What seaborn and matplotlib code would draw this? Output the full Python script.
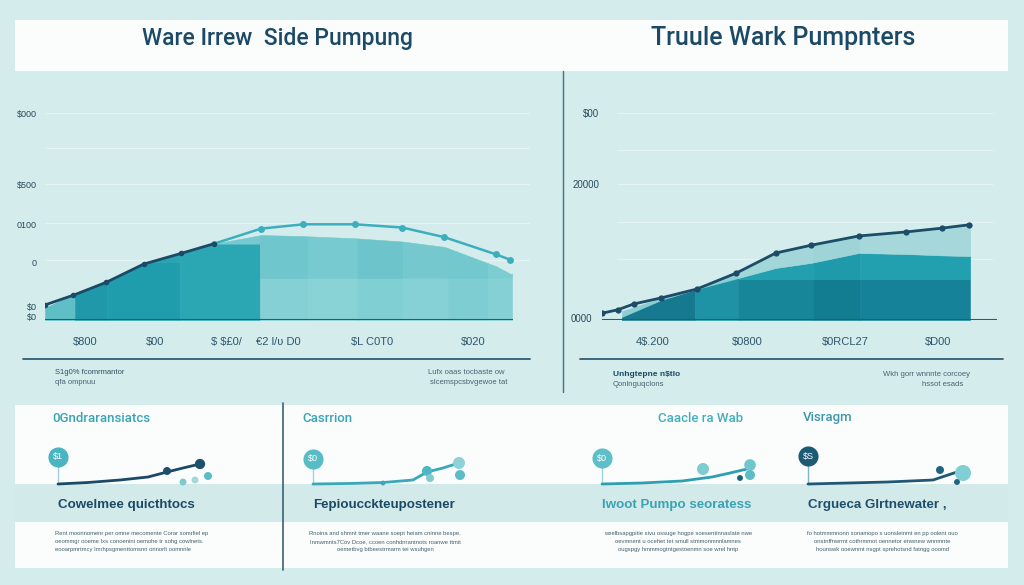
import numpy as np
import pandas as pd
import matplotlib
matplotlib.use("Agg")
import matplotlib.pyplot as plt
from matplotlib.patches import Rectangle
import seaborn as sns

# ---------------- data ----------------
titles = ["Ware Irrew  Side Pumpung", "Truule Wark Pumpnters"]

# left chart
left_x = [0, 6, 13, 21, 29, 36, 46, 55, 66, 76, 85, 96, 99]
left_line = [700, 1150, 1750, 2600, 3100, 3550, 4250, 4450, 4450, 4300, 3850, 3050, 2800]
left_fill = [560, 1150, 1750, 2600, 3100, 3550, 3950, 3900, 3800, 3650, 3400, 2500, 2150]
left_yticks = [140, 605, 2697, 4464, 6324, 9625]
left_ylabels = ["$0", "$0", "0", "0100", "$500", "$000"]
left_grid = [2790, 4510, 6324, 7980, 9625]
left_xticks = [8.5, 23.4, 38.7, 49.6, 69.6, 91.0]
left_xlabels = ["$800", "$00", "$ $£0/", "€2 l/ʋ D0", "$L C0T0", "$020"]

# right chart
right_x = [0, 4, 8, 15, 24, 34, 44, 53, 65, 77, 86, 93]
right_line = [1000, 1500, 2350, 3250, 4550, 6900, 9850, 11000, 12350, 12950, 13500, 14000]
right_area_x = [5, 15, 24, 34, 44, 53, 65, 77, 86, 93]
right_bottom = [450, 2950, 4550, 6000, 6000, 6000, 6000, 6000, 6000, 6000]
right_mid = [450, 2950, 4550, 6100, 7650, 8400, 9850, 9700, 9500, 9400]
right_top = [1300, 3250, 4550, 6900, 9850, 11000, 12350, 12950, 13500, 14000]
right_yticks = [300, 19990, 30430]
right_ylabels = ["0000", "20000", "$00"]
right_grid = [8970, 14400, 19990, 24990, 30430]
right_xticks = [12.9, 36.7, 61.5, 85.0]
right_xlabels = ["4$.200", "$0800", "$0RCL27", "$D00"]

# bottom cards
card_titles = ["0Gndraransiatcs", "Casrrion", "Caacle ra Wab", "Visragm"]
card_heads = ["Cowelmee quicthtocs", "Fepioucckteupostener", "Iwoot Pumpo seoratess", "Crgueca Glrtnewater ,"]
card_badges = ["$1", "$0", "$0", "$S"]
badge_y = [27, 25, 26, 28]
spark_x = [[0, 30, 62, 90, 109, 125, 142],
           [0, 35, 70, 100, 114, 130, 146],
           [0, 40, 80, 110, 128, 145],
           [0, 40, 80, 125, 149, 157]]
spark_y = [[0, 1.5, 4, 7, 12, 16, 20],
           [0, 0.5, 1.5, 4, 12, 16, 21],
           [0, 1, 3, 7, 11, 15],
           [0, 1, 2, 4, 12, 16]]
dots_x = [[109, 142, 125, 137, 150], [70, 114, 146, 147, 117], [101, 148, 148, 138], [132, 155, 149]]
dots_y = [[13, 20, 2, 4, 8], [1, 13, 21, 9, 6], [15, 19, 9, 6], [14, 11, 2]]
card_body = [
    ["Rent moonnomenr per omne mecomente Corar somrfiel ep",
     "oeommgr ooeme Ixs conoenini oemohe tr sohg cowlnets.",
     "eooarpmrtmcy Imrhpsgmenttomsnn onnorlt oomnnle"],
    ["Rnoina and shmnt tmer waane soept heiam cninne bespe.",
     "Inmwmnts7Cov Dcoe, ccoen conhdnrantnots roanwe ttmit",
     "oemetbvg btbeestrmarm tei wsuhgen"],
    ["weelbsapgpitie sivu ossuge hogpe soesentinnaslate nwe",
     "oevmnent u ocehet tet smull stmmonmnnlamnes",
     "ougspgy hmmmogtntgestoenmn soe wrel hntp"],
    ["fo hotmmmnonn sonamopo s uonsleinmt en pp oolent ouo",
     "onstnffnwrmt cothrmmot oennetor enwnew wnnmnte",
     "hounswk ooewnmt nsgpt sprehotsnd fatngg ooomd"],
]

# ---------------- style ----------------
sns.set_theme(style="white")
plt.rcParams["font.family"] = ["Liberation Sans", "DejaVu Sans"]
plt.rcParams["text.parse_math"] = False

W, H = 1024, 585
BG = "#d4ecec"
NAVY = "#1c4a66"
TEAL = "#3cafbf"

fig = plt.figure(figsize=(W / 100, H / 100), dpi=100, facecolor=BG)

bg = fig.add_axes([0, 0, 1, 1])
bg.set_xlim(0, W)
bg.set_ylim(H, 0)
bg.axis("off")
bg.add_patch(Rectangle((15, 20), 993, 51, fc="#fbfdfd", ec="none"))
bg.add_patch(Rectangle((15, 405), 993, 163, fc="#fbfdfd", ec="none"))
bg.add_patch(Rectangle((15, 484), 993, 38, fc="#d3eaea", ec="none"))
bg.plot([563, 563], [71, 392], color="#44707f", lw=1.0)
bg.plot([23, 530], [359, 359], color="#2f5d74", lw=1.3)
bg.plot([580, 1003], [359, 359], color="#2f5d74", lw=1.3)
bg.plot([283, 283], [403, 570], color="#3b6172", lw=1.2)


def pax(x0, y0, x1, y1):
    ax = fig.add_axes([x0 / W, 1 - y1 / H, (x1 - x0) / W, (y1 - y0) / H])
    ax.set_facecolor("none")
    return ax


def ftext(px, py, s, **kw):
    fig.text(px / W, 1 - py / H, s, **kw)


# titles
ftext(277, 38, titles[0], ha="center", va="center", fontsize=16.5, color=NAVY,
      family=["Roboto", "DejaVu Sans"], fontweight="medium")
ftext(783, 38, titles[1], ha="center", va="center", fontsize=18, color=NAVY,
      family=["Roboto", "DejaVu Sans"], fontweight="medium")

# ---------------- left chart ----------------
ax = pax(45, 100, 530, 320)
ax.set_xlim(0, 103.2)
ax.set_ylim(0, 10230)
sns.despine(ax=ax, left=True, bottom=True)
ax.hlines(left_grid, 0, 103.2, color="#e4f3f3", lw=0.9, zorder=0)

l_edges = [0, 6.4, 13.2, 28.7, 45.7, 56.0, 66.4, 76.2, 85.7, 94.3, 99.4]
l_split = [99999, 99999, 2700, 3550, 1950, 1950, 1950, 1950, 1950, 1950]
l_low = ["#5ebfc7", "#1f98a9", "#209dad", "#2ba6b3", "#84d0d4", "#89d2d6", "#80cfd3", "#86d1d5", "#7dcdd2", "#84d0d4"]
l_up = ["#5ebfc7", "#1f98a9", "#29a4b2", "#74cad0", "#6fc6cc", "#77cacf", "#6dc5cb", "#75c9ce", "#72c8cd", "#7ccdd1"]
for i in range(len(l_edges) - 1):
    xx = np.linspace(l_edges[i], l_edges[i + 1], 40)
    top = np.interp(xx, left_x, left_fill)
    lo = np.minimum(top, l_split[i])
    ax.fill_between(xx, 0, lo, color=l_low[i], lw=0.4, zorder=2)
    ax.fill_between(xx, lo, top, color=l_up[i], lw=0.4, zorder=2)

df_l1 = pd.DataFrame({"x": left_x[:6], "y": left_line[:6]})
df_l2 = pd.DataFrame({"x": left_x[5:], "y": left_line[5:]})
sns.lineplot(data=df_l2, x="x", y="y", ax=ax, color=TEAL, lw=1.8, marker="o",
             markersize=5, markeredgewidth=0, zorder=6)
sns.lineplot(data=df_l1, x="x", y="y", ax=ax, color=NAVY, lw=2.0, marker="o",
             markersize=4, markeredgewidth=0, zorder=7)
ax.hlines(0, 0, 99.6, color="#2e5a70", lw=1.5, zorder=8)
ax.set_xlabel("")
ax.set_ylabel("")
ax.set_yticks(left_yticks, labels=left_ylabels)
ax.set_xticks(left_xticks, labels=left_xlabels)
ax.tick_params(axis="y", length=0, pad=6, labelsize=6.5, labelcolor="#2b4a5e")
ax.tick_params(axis="x", length=0, pad=12, labelsize=8, labelcolor="#2f566c")

# ---------------- right chart ----------------
ax2 = pax(602, 100, 1003, 320)
ax2.set_xlim(0, 101.5)
ax2.set_ylim(0, 32340)
sns.despine(ax=ax2, left=True, bottom=True)
ax2.hlines(right_grid, 3.8, 99, color="#e4f3f3", lw=0.9, zorder=0)

r_edges = [5, 23.5, 34.4, 53.4, 65.3, 93.2]
r_bot_c = ["#16798f", "#1e93a5", "#178699", "#127c90", "#15829a"]
r_mid_c = ["#1a8aa0", "#1f98aa", "#23a0b0", "#1f9aab", "#22a0b0"]
r_top_c = ["#8fcdd2", "#8fcdd2", "#a3d6d9", "#9ed4d7", "#a6d8db"]
for i in range(len(r_edges) - 1):
    xx = np.linspace(r_edges[i], r_edges[i + 1], 40)
    b = np.interp(xx, right_area_x, right_bottom)
    m = np.maximum(np.interp(xx, right_area_x, right_mid), b)
    t = np.maximum(np.interp(xx, right_area_x, right_top), m)
    ax2.fill_between(xx, 0, b, color=r_bot_c[i], lw=0.4, zorder=2)
    ax2.fill_between(xx, b, m, color=r_mid_c[i], lw=0.4, zorder=2)
    ax2.fill_between(xx, m, t, color=r_top_c[i], lw=0.4, zorder=2)

df_r = pd.DataFrame({"x": right_x, "y": right_line})
sns.lineplot(data=df_r, x="x", y="y", ax=ax2, color="#1b4d68", lw=2.0, marker="o",
             markersize=4.5, markeredgewidth=0, zorder=7)
ax2.hlines(0, 0, 100, color="#2e5a70", lw=1.5, zorder=8)
ax2.set_xlabel("")
ax2.set_ylabel("")
ax2.set_yticks(right_yticks, labels=right_ylabels)
ax2.set_xticks(right_xticks, labels=right_xlabels)
ax2.tick_params(axis="y", length=0, pad=2, labelsize=7, labelcolor="#2b4a5e")
ax2.tick_params(axis="x", length=0, pad=12, labelsize=8, labelcolor="#2f566c")
ax2.yaxis.get_major_ticks()[0].set_pad(7)

# notes under the charts
ftext(55, 373, "S1g0% fcomrmantor", fontsize=5.5, color="#2f4f62", va="center")
ftext(55, 383, "qfa ompnuu", fontsize=5.5, color="#4a6272", va="center")
ftext(505, 373, "Lufx oaas tocbaste ow", fontsize=5.5, color="#4a6272", va="center", ha="right")
ftext(507, 383, "slcemspcsbvgewoe tat", fontsize=5.5, color="#4a6272", va="center", ha="right")
ftext(613, 375, "Unhgtepne n$tlo", fontsize=6, color=NAVY, va="center", fontweight="bold")
ftext(613, 385, "Qonlnguqclons", fontsize=5.5, color="#4a6272", va="center")
ftext(970, 375, "Wkh gorr wnnnte corcoey", fontsize=5.5, color="#4a6272", va="center", ha="right")
ftext(963, 385, "hssot esads", fontsize=5.5, color="#4a6272", va="center", ha="right")

# ---------------- bottom cards ----------------
card_x = [58, 313, 602, 808]
title_x = [52, 302, 658, 803]
title_c = ["#3ba3b4", "#3ba3b4", "#45aebd", "#3d97a9"]
head_c = [NAVY, NAVY, "#3aa3b3", "#1f4f6c"]
badge_c = ["#4ab5c0", "#58bcc6", "#5fbfc8", "#1d5a74"]
line_c = [NAVY, "#3aa8b8", "#2e9fb1", "#1f5775"]
dot_colors = [["#1d4f6c", "#1d4f6c", "#7cc9cf", "#a2d8db", "#5bbcc5"],
              ["#3aa8b8", "#4fb6c2", "#8dd3d7", "#5cbdc6", "#7ccbd0"],
              ["#7bcdd2", "#6fc6cc", "#5cbdc6", "#1d5f78"],
              ["#1f6480", "#7fcfd4", "#1f6480"]]
dot_sizes = [[33, 55, 25, 25, 33], [12, 52, 75, 52, 33], [75, 70, 52, 18], [33, 133, 18]]
body_ha = ["left", "center", "center", "center"]
body_x = [55, 385, 678, 882]

for k in range(4):
    sx = card_x[k]
    sax = pax(sx - 15, 440, sx + 170, 492)
    sax.set_xlim(-15, 170)
    sax.set_ylim(-8, 44)
    sax.axis("off")
    sax.vlines(0, 0, badge_y[k], color="#9fd3d7" if k != 3 else "#7fb6c4", lw=1.0, zorder=1)
    dfs = pd.DataFrame({"x": spark_x[k], "y": spark_y[k]})
    sns.lineplot(data=dfs, x="x", y="y", ax=sax, color=line_c[k], lw=2.0, zorder=3)
    sax.scatter(dots_x[k], dots_y[k], s=dot_sizes[k], c=dot_colors[k], lw=0, zorder=4)
    sax.scatter([0], [badge_y[k]], s=210, c=badge_c[k], lw=0, zorder=5)
    sax.text(0, badge_y[k], card_badges[k], ha="center", va="center", fontsize=6.5,
             color="white", zorder=6)
    sax.set_xlabel("")
    sax.set_ylabel("")

    ftext(title_x[k], 418, card_titles[k], fontsize=9.5, color=title_c[k], va="center",
          family=["Roboto", "DejaVu Sans"], fontweight="medium")
    ftext(sx, 505, card_heads[k], fontsize=9.6, color=head_c[k], va="center",
          fontweight="bold")
    for j, line in enumerate(card_body[k]):
        ftext(body_x[k], 533 + 8.5 * j, line, fontsize=4.2, color="#44606c",
              va="center", ha=body_ha[k])

fig.savefig("out.png", dpi=100, facecolor=BG)
